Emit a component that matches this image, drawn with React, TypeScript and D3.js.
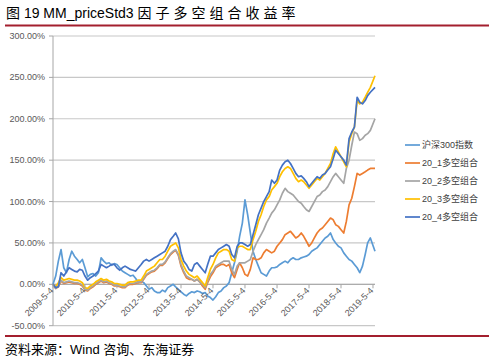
import React from "react";
import * as d3 from "d3";

const title = "图 19 MM_priceStd3 ";
const titleCJK = "因子多空组合收益率";
const source = "资料来源：Wind 咨询、东海证券";

const seriesNames = ["沪深300指数", "20_1多空组合", "20_2多空组合", "20_3多空组合", "20_4多空组合"];
const seriesColors = ["#5B9BD5", "#ED7D31", "#A5A5A5", "#FFC000", "#4472C4"];

const xTickLabels = ["2009-5-4", "2010-5-4", "2011-5-4", "2012-5-4", "2013-5-4", "2014-5-4", "2015-5-4", "2016-5-4", "2017-5-4", "2018-5-4", "2019-5-4"];
const yTicks = [-50, 0, 50, 100, 150, 200, 250, 300];

// monthly readings (percent), May 2009 .. May 2019
const hs300 = [0, 10, 28, 42, 20, 14, 30, 40, 34, 30, 26, 30, 20, 9, 12, 13, 10, 14, 32, 28, 25, 26, 23, 25, 24, 20, 16, 14, 12, 10, 11, 7, 2, 4, 2, -2, -6, -4, -8, -10, -10, -7, -9, -4, -2, 0, -3, -6, -9, -12, -14, -11, -9, -10, -8, -9, -11, -10, -14, -16, -19, -15, -10, -8, -4, -2, 2, 14, 26, 40, 58, 74, 102, 84, 62, 40, 30, 22, 14, 12, 10, 16, 20, 20, 21, 24, 26, 28, 26, 30, 32, 30, 30, 32, 33, 34, 36, 40, 42, 44, 48, 52, 56, 58, 62, 54, 50, 46, 44, 38, 34, 30, 28, 24, 20, 14, 22, 36, 50, 56, 40];
const ls1 = [0, -5, -3, 4, 1, 2, 3, 2, 1, 1, 0, -2, -7, -8, -5, -3, 0, 2, 4, 2, 3, 1, 0, -2, -2, -3, -4, -4, -1, 0, 0, 1, 2, 2, 6, 11, 13, 15, 16, 19, 23, 23, 26, 31, 36, 39, 41, 35, 22, 14, 8, 6, 6, 4, 6, 3, -2, -6, 2, 9, 14, 20, 22, 24, 24, 22, 24, 14, 8, 18, 26, 20, 12, 10, 18, 32, 30, 30, 32, 38, 42, 40, 38, 40, 46, 50, 54, 60, 62, 64, 60, 56, 58, 62, 58, 52, 46, 50, 56, 62, 66, 68, 72, 76, 80, 78, 72, 70, 66, 62, 76, 96, 104, 118, 134, 132, 134, 136, 138, 140, 140];
const ls2 = [0, -5, -2, 5, 2, 3, 4, 3, 2, 2, 1, -1, -6, -7, -4, -2, 1, 3, 5, 3, 4, 2, 1, -1, -1, -2, -3, -3, 0, 1, 1, 2, 3, 3, 7, 12, 14, 16, 17, 20, 24, 24, 27, 32, 37, 40, 42, 36, 24, 16, 10, 8, 6, 4, 6, 3, 0, -4, 4, 12, 16, 22, 24, 26, 28, 28, 28, 18, 12, 22, 26, 26, 26, 28, 30, 40, 48, 54, 60, 66, 74, 80, 86, 90, 96, 102, 110, 116, 112, 110, 108, 104, 100, 98, 94, 90, 88, 94, 100, 106, 108, 112, 114, 118, 124, 130, 134, 130, 126, 122, 140, 150, 168, 184, 182, 174, 176, 180, 182, 186, 200];
const ls3 = [0, -3, 2, 8, 5, 6, 7, 6, 5, 5, 4, 2, -4, -5, -2, 0, 3, 5, 7, 5, 6, 4, 3, 1, 1, 0, -1, -1, 2, 3, 3, 4, 5, 5, 10, 16, 18, 20, 22, 26, 30, 30, 34, 40, 46, 48, 50, 44, 30, 22, 16, 12, 10, 8, 10, 6, 2, -2, 8, 18, 24, 32, 38, 40, 42, 42, 40, 30, 28, 44, 46, 46, 44, 42, 42, 54, 64, 76, 84, 94, 102, 106, 114, 118, 122, 130, 136, 140, 142, 140, 134, 128, 124, 126, 124, 120, 116, 120, 124, 128, 126, 130, 134, 140, 146, 158, 166, 160, 154, 148, 142, 172, 182, 190, 222, 218, 220, 226, 232, 238, 252];
const ls4 = [0, -4, -3, 14, 10, 15, 20, 18, 16, 15, 18, 17, 10, 5, 8, 10, 13, 16, 24, 22, 20, 22, 24, 24, 20, 17, 20, 22, 20, 18, 17, 16, 20, 24, 28, 30, 28, 30, 32, 34, 36, 38, 40, 46, 54, 58, 62, 55, 38, 28, 24, 18, 16, 24, 26, 22, 18, 14, 24, 34, 34, 38, 42, 44, 46, 48, 46, 36, 32, 46, 50, 50, 48, 46, 48, 60, 72, 84, 92, 100, 106, 112, 126, 122, 126, 138, 144, 148, 150, 146, 140, 134, 130, 131, 128, 124, 118, 122, 126, 130, 128, 132, 134, 138, 142, 152, 162, 158, 154, 150, 144, 176, 184, 190, 226, 220, 218, 222, 228, 232, 238];

const allSeries = [hs300, ls1, ls2, ls3, ls4];
const startDate = new Date(2009, 4, 4);
const endDate = new Date(2019, 4, 27);
const dates = hs300.map((_, i) => (i < hs300.length - 1 ? d3.timeMonth.offset(startDate, i) : endDate));
const tickDates = xTickLabels.map((s) => {
  const [y, m, d] = s.split("-").map(Number);
  return new Date(y, m - 1, d);
});

const FONT = "'Liberation Sans', Arial, 'Noto Sans CJK SC', sans-serif";

export default function App() {
  const W = 494, H = 360;
  const x = d3.scaleTime().domain([startDate, endDate]).range([53, 375]);
  const y = d3.scaleLinear().domain([-50, 300]).range([325.7, 36]);
  const line = d3
    .line<number>()
    .x((_, i) => x(dates[i]))
    .y((v) => y(v));
  const legendY = d3.scalePoint<string>().domain(seriesNames).range([145, 217]);

  return (
    <svg width={W} height={H} style={{ position: "absolute", left: 0, top: 0, background: "#fff" }} fontFamily={FONT}>
      <rect width={W} height={H} fill="#fff" />
      <text x={6} y={18} fontSize={14} fill="#000">
        {title}
        <tspan letterSpacing={4}>{titleCJK}</tspan>
      </text>
      <line x1={5} x2={489} y1={25.5} y2={25.5} stroke="#A31F2E" strokeWidth={2} />

      {yTicks.map((t) => (
        <g key={t}>
          <line x1={53} x2={375} y1={y(t)} y2={y(t)} stroke="#C8C8C8" strokeWidth={1.2} />
          <line x1={49} x2={53} y1={y(t)} y2={y(t)} stroke="#A6A6A6" strokeWidth={1} />
          <text x={45} y={y(t) + 3} fontSize={9} fill="#595959" textAnchor="end">
            {t.toFixed(2) + "%"}
          </text>
        </g>
      ))}
      <line x1={53} x2={53} y1={y(300)} y2={y(-50)} stroke="#A6A6A6" strokeWidth={1} />
      <line x1={53} x2={375} y1={y(0)} y2={y(0)} stroke="#A6A6A6" strokeWidth={1} />

      {allSeries.map((s, k) => (
        <path key={k} d={line(s) || ""} fill="none" stroke={seriesColors[k]} strokeWidth={1.7} strokeLinejoin="round" />
      ))}

      {tickDates.map((d, i) => (
        <g key={i}>
          <line x1={x(d)} x2={x(d)} y1={y(0)} y2={y(0) + 4} stroke="#A6A6A6" strokeWidth={1} />
          <text
            transform={`translate(${x(d) + 1},${y(0) + 7}) rotate(-45)`}
            fontSize={9}
            fill="#595959"
            textAnchor="end"
          >
            {xTickLabels[i]}
          </text>
        </g>
      ))}

      {seriesNames.map((n, k) => (
        <g key={n}>
          <line x1={405} x2={420} y1={legendY(n)} y2={legendY(n)} stroke={seriesColors[k]} strokeWidth={1.7} />
          <text x={422} y={(legendY(n) as number) + 3.2} fontSize={9} fill="#404040">
            {n}
          </text>
        </g>
      ))}

      <line x1={5} x2={489} y1={336} y2={336} stroke="#A31F2E" strokeWidth={2} />
      <text x={5} y={354} fontSize={13} fill="#000">
        {source}
      </text>
    </svg>
  );
}
